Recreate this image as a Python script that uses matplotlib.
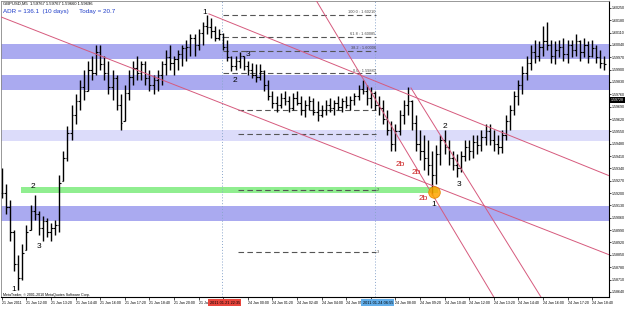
import numpy as np
import matplotlib
matplotlib.use("Agg")
import matplotlib.pyplot as plt
from matplotlib.transforms import blended_transform_factory

plt.rcParams["font.family"] = ["Liberation Sans", "DejaVu Sans"]

# GBPUSD M5 bars, values in pips above base price
base = 1.58600
high_pips = [74, 65, 56, 39, 25, 31, 42, 53, 59, 50, 47, 46, 43, 45, 70, 84, 98, 110, 116, 124,
             130, 135, 138, 144, 144, 138, 135, 130, 127, 116, 121, 130, 135, 138, 135, 135, 130, 127, 130, 135,
             141, 144, 138, 141, 144, 147, 150, 150, 153, 157, 161, 159, 155, 153, 151, 147, 138, 138, 140, 138,
             135, 134, 133, 133, 130, 124, 118, 115, 117, 118, 115, 117, 118, 115, 113, 115, 114, 112, 110, 113,
             114, 113, 115, 114, 115, 115, 117, 121, 124, 121, 120, 118, 115, 113, 107, 101, 99, 107, 113, 120,
             113, 104, 96, 93, 90, 84, 87, 93, 96, 90, 84, 82, 84, 90, 90, 93, 93, 96, 99, 99,
             96, 93, 96, 104, 110, 118, 124, 132, 138, 144, 147, 146, 155, 157, 147, 146, 147, 148, 147, 147,
             150, 147, 148, 146, 147, 144, 141, 138]
low_pips = [57, 48, 33, 16, 5, 11, 28, 39, 45, 36, 33, 35, 33, 36, 38, 67, 78, 90, 99, 107,
            113, 118, 124, 127, 130, 124, 116, 113, 107, 96, 101, 113, 121, 124, 124, 121, 118, 116, 118, 121,
            127, 130, 127, 130, 132, 135, 138, 138, 141, 144, 150, 148, 146, 147, 141, 135, 129, 130, 131, 130,
            127, 125, 123, 124, 118, 113, 108, 106, 108, 110, 106, 107, 110, 104, 103, 107, 104, 101, 103, 104,
            106, 104, 107, 106, 108, 107, 110, 113, 116, 110, 108, 107, 104, 99, 93, 84, 84, 93, 99, 104,
            96, 84, 79, 73, 70, 59, 65, 76, 82, 76, 73, 69, 72, 78, 79, 80, 82, 84, 87, 87,
            84, 82, 83, 90, 96, 104, 110, 116, 124, 130, 134, 135, 138, 141, 134, 133, 137, 135, 134, 137,
            138, 135, 137, 134, 137, 134, 131, 130]
close_pips = [60, 52, 38, 20, 12, 26, 38, 50, 48, 40, 44, 38, 40, 42, 66, 80, 94, 104, 112, 120,
              118, 130, 128, 140, 133, 128, 120, 125, 110, 100, 117, 126, 131, 128, 133, 125, 121, 124, 127, 133,
              137, 134, 136, 139, 142, 143, 148, 144, 151, 155, 154, 152, 148, 150, 143, 137, 132, 135, 138, 132,
              130, 127, 126, 129, 121, 115, 111, 110, 114, 112, 108, 114, 111, 107, 110, 112, 106, 104, 107, 110,
              108, 111, 109, 112, 110, 113, 115, 119, 118, 114, 117, 110, 108, 102, 96, 88, 95, 104, 110, 112,
              100, 88, 84, 80, 76, 70, 82, 90, 86, 80, 76, 74, 81, 86, 84, 89, 87, 92, 95, 90,
              88, 86, 93, 101, 107, 115, 121, 128, 134, 140, 138, 143, 146, 144, 138, 141, 143, 139, 144, 141,
              146, 140, 144, 138, 142, 137, 134, 133]

# labels hidden under the vertical-line time boxes are left blank
time_labels = ["21 Jan 2011", "21 Jan 12:00", "21 Jan 13:20", "21 Jan 14:40", "21 Jan 16:00",
               "21 Jan 17:20", "21 Jan 18:40", "21 Jan 20:00", "21 Jan 21:20", "",
               "24 Jan 00:00", "24 Jan 01:20", "24 Jan 02:40", "24 Jan 04:00", "24 Jan 05:20",
               "", "24 Jan 08:00", "24 Jan 09:20", "24 Jan 10:40", "24 Jan 12:00",
               "24 Jan 13:20", "24 Jan 14:40", "24 Jan 16:00", "24 Jan 17:20", "24 Jan 18:40"]
price_ticks = [1.60250 - 0.0007 * k for k in range(24)]

# chart objects (bar index, price)
blue_zones = [(1.59960, 1.60045), (1.59785, 1.59870), (1.59042, 1.59127)]
light_zone = (1.59495, 1.59558)
green_zone = (4.6, 106.3, 1.59200, 1.59235)
trend_lines = [((-0.24, 1.60199), (148.3, 1.58849)),
               ((50.5, 1.60216), (148.3, 1.59297)),
               ((76.6, 1.60295), (120.0, 1.58611)),
               ((99.8, 1.59796), (131.5, 1.58611))]
fib_range = (53.9, 91.2)
fib_levels = [(1.60210, "100.0 : 1.60210"), (1.60085, "61.8 : 1.60085"),
              (1.60006, "38.2 : 1.60006"), (1.59880, "0.0 : 1.59880")]
ext_range = (57.6, 91.2)
ext_levels = [(1.59670, ""), (1.59535, ""), (1.59218, "2"), (1.58866, "3")]
vlines_at = [(53.7, "2011.01.21 22:35", "#e8453c"), (91.0, "2011.01.24 06:55", "#62aeea")]
pivot_mark = (105.4, 1.59206)
wave_labels = [(49.5, 1.60221, "1"), (60.0, 1.59983, "3"), (56.8, 1.59841, "2"),
               (2.9, 1.58652, "1"), (7.6, 1.59240, "2"), (9.0, 1.58895, "3"),
               (108.0, 1.59575, "2"), (111.5, 1.59246, "3"), (105.4, 1.59138, "1")]
b2_labels = [(97.3, 1.59360), (101.0, 1.59314), (102.9, 1.59172)]
bid_price = 1.59728

hi = base + np.array(high_pips) * 1e-4
lo = base + np.array(low_pips) * 1e-4
cl = base + np.array(close_pips) * 1e-4
op = np.clip(np.r_[cl[0], cl[:-1]], lo, hi)
idx = np.arange(len(cl))

fig = plt.figure(figsize=(6.25, 3.1), dpi=100)
ax = fig.add_axes([1 / 625, 13 / 310, 608 / 625, 296 / 310])
ax.set_xlim(-0.2, 148.1)
ax.set_ylim(1.58611, 1.60289)

# zones
for z0, z1 in blue_zones:
    ax.axhspan(z0, z1, color="#aaaaf0", lw=0, zorder=0)
ax.axhspan(*light_zone, color="#dcdcfa", lw=0, zorder=0)
ax.fill_between(green_zone[:2], green_zone[2], green_zone[3], color="#90ee90", lw=0, zorder=0)

# vertical lines
for xv, lab, col in vlines_at:
    ax.axvline(xv, color="#8aa6cc", lw=0.7, ls=(0, (1, 2)), zorder=1)

# fibonacci levels
for lvl, lab in fib_levels:
    ax.hlines(lvl, *fib_range, colors="#555555", lw=0.8, linestyles=(0, (5, 3)), zorder=1)
    ax.text(fib_range[1], lvl + 0.00003, lab, fontsize=2.8, color="#444444",
            ha="right", va="bottom", zorder=3)
for lvl, lab in ext_levels:
    ax.hlines(lvl, *ext_range, colors="#555555", lw=0.8, linestyles=(0, (5, 3)), zorder=1)
    ax.text(ext_range[1] + 0.2, lvl, lab, fontsize=2.8, color="#444444",
            ha="left", va="center", zorder=3)

# OHLC bars
ax.vlines(idx, lo, hi, colors="black", lw=1.0, zorder=2)
ax.hlines(op, idx - 0.4, idx, colors="black", lw=0.8, zorder=2)
ax.hlines(cl, idx, idx + 0.4, colors="black", lw=0.8, zorder=2)

# trend lines
for (x0, y0), (x1, y1) in trend_lines:
    ax.plot([x0, x1], [y0, y1], color="#d65a7d", lw=0.7, zorder=3)

ax.scatter([pivot_mark[0]], [pivot_mark[1]], s=70, color="#ffa500", edgecolor="#e08000",
           lw=0.6, alpha=0.85, zorder=4)

for x, y, t in wave_labels:
    ax.text(x, y, t, fontsize=6, ha="center", va="center", color="black", zorder=5)
for x, y in b2_labels:
    ax.text(x, y, "2b", fontsize=6, ha="center", va="center", color="#cc2020", zorder=5)

# axes styling
for side in ["right", "bottom"]:
    ax.spines[side].set_color("black")
    ax.spines[side].set_linewidth(0.8)
for side in ["left", "top"]:
    ax.spines[side].set_color("#888888")
    ax.spines[side].set_linewidth(0.6)
ax.yaxis.tick_right()
ax.set_yticks(price_ticks)
ax.set_yticklabels([f"{v:.5f}" for v in price_ticks])
ax.tick_params(axis="y", length=1.5, width=0.5, pad=0.5, labelsize=2.6)
ax.set_xticks(idx[::6][:len(time_labels)])
ax.set_xticklabels(time_labels)
for t in ax.get_xticklabels():
    t.set_ha("left")
ax.tick_params(axis="x", length=2, width=0.5, pad=1, labelsize=2.6)

tr = blended_transform_factory(ax.transData, ax.transAxes)
for xv, lab, col in vlines_at:
    ax.text(xv - 3.0, -0.012, lab, transform=tr, fontsize=2.8, ha="left", va="top",
            color="black", bbox=dict(boxstyle="square,pad=0.35", fc=col, ec="none"),
            clip_on=False, zorder=6)

try_tr = blended_transform_factory(ax.transAxes, ax.transData)
ax.text(1.003, bid_price, f"{bid_price:.5f}", transform=try_tr, fontsize=2.6, color="white",
        ha="left", va="center", bbox=dict(boxstyle="square,pad=0.3", fc="black", ec="none"),
        clip_on=False, zorder=6)

fig.text(3 / 625, 1 - 4 / 310, "GBPUSD,M5  1.59767 1.59767 1.59660 1.59696", fontsize=3,
         va="center", ha="left")
fig.text(3 / 625, 1 - 11.5 / 310, "ADR = 136.1  (10 days)      Today = 20.7", fontsize=4.5,
         color="#1e3cc8", va="center", ha="left")
ax.text(0.003, 0.0, "MetaTrader, \u00a9 2001-2010 MetaQuotes Software Corp.", transform=ax.transAxes,
        fontsize=2.6, ha="left", va="bottom")

fig.savefig("out.png", dpi=100)
